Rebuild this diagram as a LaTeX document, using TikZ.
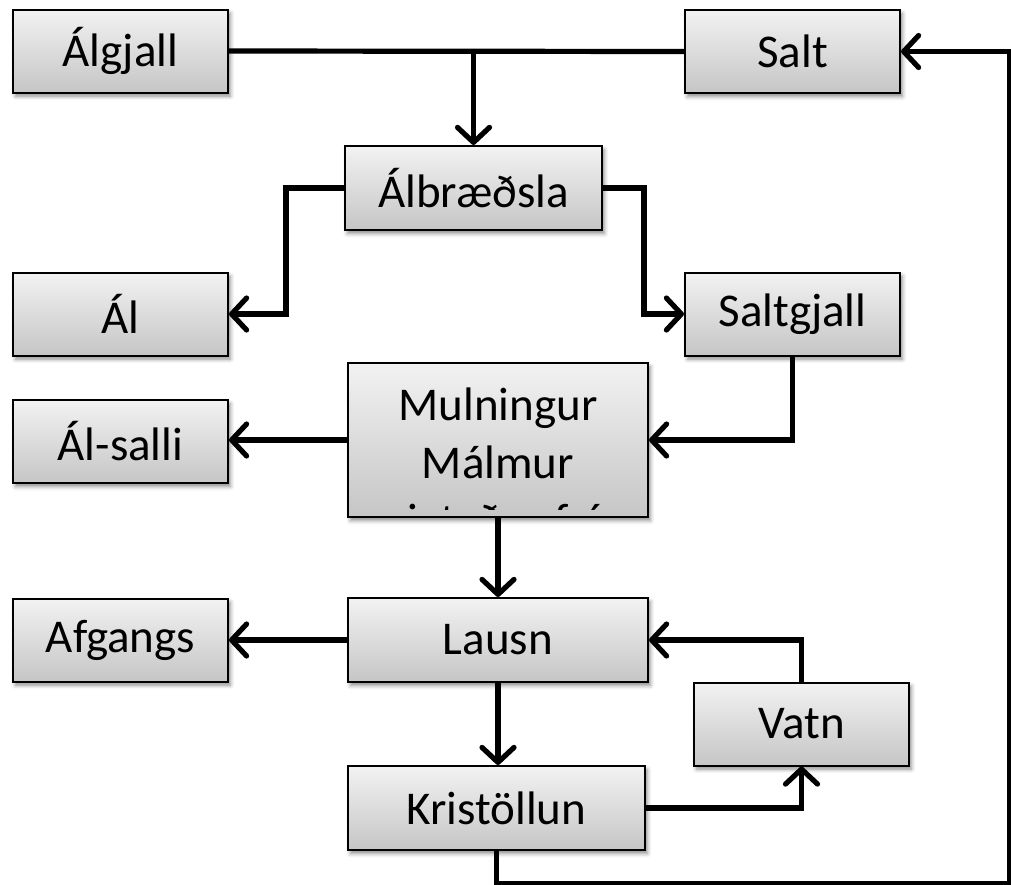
\documentclass[tikz,border=0pt]{standalone}
\usepackage{fontspec}
\setmainfont{Carlito}
\usetikzlibrary{arrows.meta,shadows.blur}
\begin{document}
\begin{tikzpicture}[x=0.5pt,y=-0.5pt,
  box/.style={draw=black, line width=1pt, top color=gray!10, bottom color=gray!45,
    blur shadow={shadow xshift=1.2pt, shadow yshift=-1.8pt, shadow blur radius=2pt, shadow opacity=45},
    inner sep=0pt, font=\fontsize{23.5}{29}\selectfont, text=black},
  sbox/.style={box, minimum width=107.5pt, minimum height=41.5pt},
  wbox/.style={box, minimum width=150pt, minimum height=42pt},
  txt/.style={anchor=base, inner sep=0pt, font=\fontsize{23.5}{29}\selectfont, text=black},
  conn/.style={line width=2.6pt, line join=miter},
  arr/.style={conn, -{Straight Barb[length=7.5pt,width=16pt,line cap=round,line join=round]}}]
\useasboundingbox (0,0) rectangle (1011,884);
\clip (0,0) rectangle (1011,884);
% boxes
\node[sbox] (algjall) at (120.5,51) {Álgjall};
\node[sbox] (salt) at (792.5,51.5) {Salt};
\node[box, minimum width=128.5pt, minimum height=42pt] (albr) at (473.5,188) {Álbræðsla};
\node[sbox] (al) at (120.5,314) {Ál};
\node[sbox] (saltgjall) at (792.5,314) {Saltgjall};
\node[box, minimum width=150pt, minimum height=77pt] (mul) at (498,440) {};
\node[sbox] (alsalli) at (120.5,441.5) {Ál-salli};
\node[wbox] (lausn) at (498,640) {Lausn};
\node[sbox] (afgangs) at (120.5,640) {Afgangs};
\node[sbox] (vatn) at (801.5,724) {Vatn};
\node[box, minimum width=148.5pt, minimum height=42pt] (krist) at (496.5,808) {Kristöllun};
% clipped text of the large box
\begin{scope}
\clip (349,364) rectangle (647,509);
\node[txt] (mul1) at (498,420) {Mulningur};
\node[txt] (mul2) at (498,478) {Málmur};
\node[txt] (mul3) at (498,536) {sigtaður frá};
\end{scope}
% connectors
\coordinate (j1) at (albr.north |- algjall.east);
\coordinate (c1) at (1009.5,883.5);
\draw[conn] (algjall.east) -- (salt.west);
\draw[arr] (j1) -- (albr.north);
\draw[arr] (albr.west) -- ++(-58,0) |- (al.east);
\draw[arr] (albr.east) -- ++(41,0) |- (saltgjall.west);
\draw[arr] (saltgjall.south) |- (mul.east);
\draw[arr] (mul.west) -- (mul.west -| alsalli.east);
\draw[arr] (mul.south) -- (lausn.north);
\draw[arr] (lausn.west) -- (afgangs.east);
\draw[arr] (lausn.south) -- (lausn.south |- krist.north);
\draw[arr] (krist.east) -| (vatn.south);
\draw[arr] (vatn.north) |- (lausn.east);
\draw[arr] (krist.south) |- (c1) |- (salt.east);
\end{tikzpicture}
\end{document}
